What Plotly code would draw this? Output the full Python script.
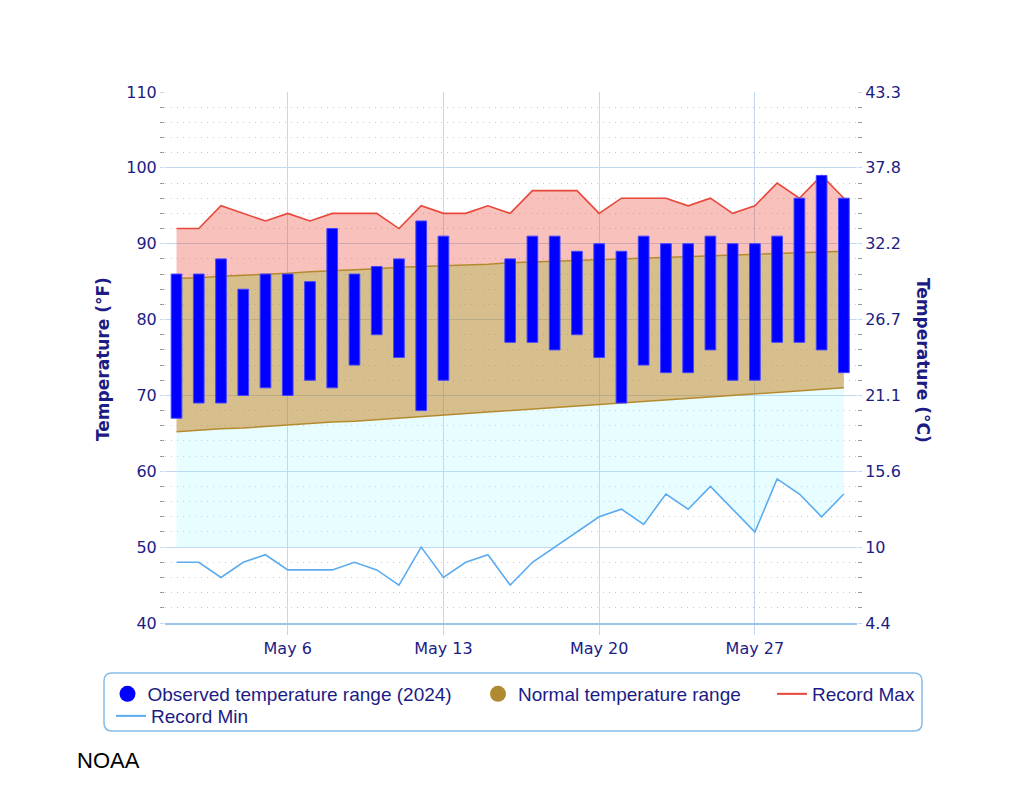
import pandas as pd
import plotly.graph_objects as go

# ---------------- data ----------------
dates = pd.date_range("2024-05-01", "2024-05-31", freq="D")

obs_high = [86, 86, 88, 84, 86, 86, 85, 92, 86, 87, 88, 93, 91, None, None,
            88, 91, 91, 89, 90, 89, 91, 90, 90, 91, 90, 90, 91, 96, 99, 96]
obs_low = [67, 69, 69, 70, 71, 70, 72, 71, 74, 78, 75, 68, 72, None, None,
           77, 77, 76, 78, 75, 69, 74, 73, 73, 76, 72, 72, 77, 77, 76, 73]

normal_high = [85.4, 85.5, 85.7, 85.8, 86.0, 86.1, 86.3, 86.4, 86.6, 86.7, 86.9,
               87.0, 87.1, 87.2, 87.3, 87.5, 87.6, 87.7, 87.8, 87.9, 88.0,
               88.1, 88.2, 88.3, 88.4, 88.5, 88.6, 88.7, 88.8, 88.9, 89.0]
normal_low = [65.2, 65.4, 65.6, 65.7, 65.9, 66.1, 66.3, 66.5, 66.6, 66.8, 67.0,
              67.2, 67.4, 67.6, 67.8, 68.0, 68.2, 68.4, 68.6, 68.8, 69.0,
              69.2, 69.4, 69.6, 69.8, 70.0, 70.2, 70.4, 70.6, 70.8, 71.0]

record_max = [92, 92, 95, 94, 93, 94, 93, 94, 94, 94,
              92, 95, 94, 94, 95, 94, 97, 97, 97, 94,
              96, 96, 96, 95, 96, 94, 95, 98, 96, 99, 96]
record_min = [48, 48, 46, 48, 49, 47, 47, 47, 48, 47,
              45, 50, 46, 48, 49, 45, 48, 50, 52, 54,
              55, 53, 57, 55, 58, 55, 52, 59, 57, 54, 57]

x_tick_dates = ["2024-05-06", "2024-05-13", "2024-05-20", "2024-05-27"]
x_tick_labels = ["May 6", "May 13", "May 20", "May 27"]
f_ticks = [40, 50, 60, 70, 80, 90, 100, 110]
c_tick_labels = ["4.4", "10", "15.6", "21.1", "26.7", "32.2", "37.8", "43.3"]

legend_names = ["Observed temperature range (2024)", "Normal temperature range",
                "Record Max", "Record Min"]
cyan_floor = 50

# ---------------- styles ----------------
NAVY = "#1c1c84"
BLUE = "#0000ff"
BROWN = "#b58a2e"
RED = "#e8473a"
LBLUE = "#5aabf0"
GRID = "#c2d8f0"

OFF = 8  # page body margin
W, H = 1024 - 2 * OFF, 788 - 2 * OFF
PX0, PX1, PY0, PY1 = 165, 857, 92, 623   # plot area in page pixels
ML, MT = PX0 - OFF, PY0 - OFF
PW, PH = PX1 - PX0, PY1 - PY0
MR, MB = W - ML - PW, H - MT - PH


def X(px):
    return (px - PX0) / PW


def Y(py):
    return (PY1 - py) / PH


# lower edge of the cyan band: record min, but not below the floor
lo_x, lo_y = [], []
for i, d in enumerate(dates):
    if i > 0:
        a, b = record_min[i - 1], record_min[i]
        if (a - cyan_floor) * (b - cyan_floor) < 0:
            t = (cyan_floor - a) / (b - a)
            lo_x.append(dates[i - 1] + (d - dates[i - 1]) * t)
            lo_y.append(cyan_floor)
    lo_x.append(d)
    lo_y.append(max(record_min[i], cyan_floor))

span = [None if h is None else h - l for h, l in zip(obs_high, obs_low)]

fig = go.Figure()
fig.add_trace(go.Scatter(x=lo_x, y=lo_y, mode="lines", line=dict(width=0),
                         showlegend=False, hoverinfo="skip"))
fig.add_trace(go.Scatter(x=dates, y=normal_low, mode="lines",
                         line=dict(color=BROWN, width=1.5), fill="tonexty",
                         fillcolor="rgba(140,245,255,0.2)", showlegend=False))
fig.add_trace(go.Scatter(x=dates, y=normal_high, mode="lines",
                         line=dict(color=BROWN, width=1.5), fill="tonexty",
                         fillcolor="rgba(181,138,46,0.55)", showlegend=False))
fig.add_trace(go.Scatter(x=dates, y=record_max, mode="lines",
                         line=dict(color=RED, width=1.6), fill="tonexty",
                         fillcolor="rgba(234,67,53,0.33)", showlegend=False))
fig.add_trace(go.Scatter(x=dates, y=record_min, mode="lines",
                         line=dict(color=LBLUE, width=1.6), showlegend=False))
fig.add_trace(go.Bar(x=dates, y=span, base=obs_low, width=0.48 * 86400000,
                     marker=dict(color=BLUE, line=dict(color="#4444ff", width=1)),
                     yaxis="y2", showlegend=False))

# legend-only entries
fig.add_trace(go.Scatter(x=[None], y=[None], mode="markers", name=legend_names[0],
                         marker=dict(symbol="circle", size=16, color=BLUE), legend="legend"))
fig.add_trace(go.Scatter(x=[None], y=[None], mode="markers", name=legend_names[1],
                         marker=dict(symbol="circle", size=16, color="#b08a30"), legend="legend2"))
fig.add_trace(go.Scatter(x=[None], y=[None], mode="lines", name=legend_names[2],
                         line=dict(color=RED, width=2), legend="legend3"))
fig.add_trace(go.Scatter(x=[None], y=[None], mode="lines", name=legend_names[3],
                         line=dict(color=LBLUE, width=2), legend="legend4"))

lfont = dict(family="Liberation Sans, Arial, sans-serif", size=19, color=NAVY)


def leg(px, py):
    return dict(x=X(px), y=Y(py), xanchor="left", yanchor="middle",
                bgcolor="rgba(0,0,0,0)", borderwidth=0, font=lfont)


tickfont = dict(family="DejaVu Sans, Verdana, sans-serif", size=16, color=NAVY)

fig.update_layout(
    width=W, height=H,
    margin=dict(l=ML, r=MR, t=MT, b=MB, autoexpand=False),
    paper_bgcolor="white", plot_bgcolor="white",
    barmode="overlay",
    legend=leg(107.5, 694), legend2=leg(478, 694), legend3=leg(772, 694),
    legend4=leg(111, 716),
    xaxis=dict(type="date", range=["2024-04-30 11:35", "2024-05-31 14:10"],
               tickvals=x_tick_dates, ticktext=x_tick_labels, tickfont=tickfont,
               ticks="outside", ticklen=10, tickcolor=GRID, showgrid=True,
               gridcolor=GRID, gridwidth=1.2, showline=True, linecolor="#9fc4ec",
               linewidth=2, zeroline=False),
    yaxis=dict(range=[40, 110], tickvals=f_ticks, tickfont=tickfont,
               ticks="outside", ticklen=4, tickcolor=GRID, showgrid=True,
               gridcolor=GRID, gridwidth=1.2, zeroline=False, showline=False,
               minor=dict(dtick=2, ticks="outside", ticklen=4, tickcolor="#999999",
                          showgrid=True, gridcolor="#cccccc", griddash="1px,5px", gridwidth=1)),
    yaxis2=dict(range=[40, 110], overlaying="y", side="right", tickvals=f_ticks,
                ticktext=c_tick_labels, tickfont=tickfont, ticks="outside", ticklen=4,
                tickcolor=GRID, showgrid=False, zeroline=False, showline=False,
                minor=dict(dtick=2, ticks="outside", ticklen=4, tickcolor="#999999",
                           showgrid=False)),
)

title_font = dict(family="DejaVu Sans, Verdana, sans-serif", size=17, color=NAVY)
fig.add_annotation(text="<b>Temperature (°F)</b>", xref="paper", yref="paper",
                   x=X(103), y=Y(359), textangle=-90, showarrow=False,
                   font=title_font, xanchor="center", yanchor="middle")
fig.add_annotation(text="<b>Temperature (°C)</b>", xref="paper", yref="paper",
                   x=X(923), y=Y(360), textangle=90, showarrow=False,
                   font=title_font, xanchor="center", yanchor="middle")
fig.add_annotation(text="NOAA", xref="paper", yref="paper", x=X(75), y=Y(760),
                   xanchor="left", yanchor="middle", showarrow=False,
                   font=dict(family="Liberation Sans, Arial, sans-serif", size=22, color="black"))

# rounded legend frame
x0, x1, y0, y1, r = 104, 922, 673, 731, 8
path = (f"M {X(x0 + r)},{Y(y0)} L {X(x1 - r)},{Y(y0)} Q {X(x1)},{Y(y0)} {X(x1)},{Y(y0 + r)} "
        f"L {X(x1)},{Y(y1 - r)} Q {X(x1)},{Y(y1)} {X(x1 - r)},{Y(y1)} "
        f"L {X(x0 + r)},{Y(y1)} Q {X(x0)},{Y(y1)} {X(x0)},{Y(y1 - r)} "
        f"L {X(x0)},{Y(y0 + r)} Q {X(x0)},{Y(y0)} {X(x0 + r)},{Y(y0)} Z")
fig.add_shape(type="path", path=path, xref="paper", yref="paper",
              line=dict(color="#86bde9", width=1.5), fillcolor="rgba(0,0,0,0)")

fig.write_html("out.html")
